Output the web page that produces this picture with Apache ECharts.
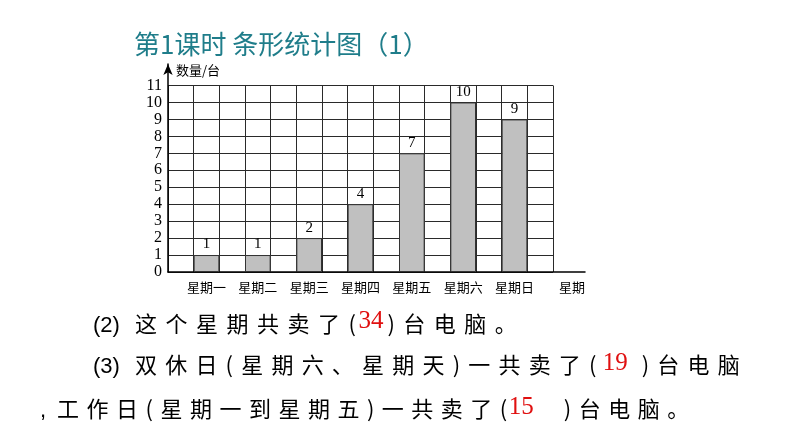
<!DOCTYPE html>
<html><head><meta charset="utf-8">
<script src="https://cdn.jsdelivr.net/npm/echarts@6/dist/echarts.min.js"></script>
<style>
body{margin:0;background:#fff}
#wrap{position:relative;width:794px;height:447px;overflow:hidden}
#chart{position:absolute;left:0;top:0;width:794px;height:447px}
.line{position:absolute;font-family:'Noto Sans CJK SC';font-size:22px;letter-spacing:8.5px;color:#000;white-space:nowrap;line-height:30px;height:30px}
.lab{font-family:'Liberation Sans','Noto Sans';letter-spacing:0;font-size:22px;display:inline-block;width:42px}
.num{color:#e01010;font-family:'Liberation Serif';font-size:25px;letter-spacing:0;display:inline-block}
</style></head>
<body><div id="wrap"><div id="chart"></div>
<div class="line" style="left:93px;top:307px"><span class="lab">(2)</span>这个星期共卖了(<span class="num" style="position:relative;top:-4px;margin-left:-6px;margin-right:4px">34</span>)台电脑。</div>
<div class="line" style="left:93px;top:348px;letter-spacing:8.2px"><span class="lab">(3)</span>双休日(星期六、星期天)一共卖了(<span class="num" style="position:relative;top:-3px;margin-left:-2px;margin-right:14px">19</span>)台电脑</div>
<div class="line" style="left:40px;top:392px;letter-spacing:7.5px"><span class="lab" style="width:17px">,</span>工作日(星期一到星期五)一共卖了(<span class="num" style="position:relative;top:-3px;margin-left:-6px;margin-right:30px">15</span>)台电脑。</div>
</div>
<script>
const categories = ['星期一','星期二','星期三','星期四','星期五','星期六','星期日'];
const values = [1, 1, 2, 4, 7, 10, 9];
const yMax = 11;
const slotCount = 15;
const xAxisName = '星期';
const yAxisName = '数量/台';
const titleText = '第1课时 条形统计图（1）';

// each category sits in every second grid column (odd slots)
const slotLabels = [], slotValues = [];
for (let i = 0; i < slotCount; i++) {
  if (i % 2 === 1 && (i - 1) / 2 < categories.length) {
    slotLabels.push(categories[(i - 1) / 2]);
    slotValues.push(values[(i - 1) / 2]);
  } else {
    slotLabels.push('');
    slotValues.push('-');
  }
}

const chart = echarts.init(document.getElementById('chart'));
const gridLine = {color: '#2a2a2a', width: 1};
chart.setOption({
  animation: false,
  title: {text: titleText, left: 129, top: 26,
    textStyle: {fontFamily: 'Noto Sans CJK SC', fontSize: 26, fontWeight: 'normal', color: '#1f7d8a'}},
  grid: [
    {left: 168, top: 85.5, width: 385, height: 186.5},
    {left: 168, top: 64, width: 417, height: 208}
  ],
  xAxis: [
    {type: 'value', gridIndex: 0, position: 'top', min: 0, max: slotCount, interval: 1,
      axisLine: {show: false}, axisTick: {show: false}, axisLabel: {show: false},
      splitLine: {show: true, lineStyle: gridLine}},
    {type: 'value', gridIndex: 1, position: 'bottom', min: 0, max: 1,
      axisLine: {show: true, lineStyle: {color: '#000', width: 1.5}}, axisTick: {show: false},
      axisLabel: {show: false}, splitLine: {show: false},
      name: xAxisName, nameLocation: 'end', nameGap: -13,
      nameTextStyle: {align: 'center', verticalAlign: 'top', padding: [9, 0, 0, 0],
        fontSize: 13, color: '#000', fontFamily: 'Noto Sans CJK SC'}},
    {type: 'category', gridIndex: 0, position: 'bottom', data: slotLabels, boundaryGap: true,
      axisLine: {show: false}, axisTick: {show: false}, splitLine: {show: false},
      axisLabel: {interval: 0, margin: 9, fontSize: 13, color: '#000', fontFamily: 'Noto Sans CJK SC'}}
  ],
  yAxis: [
    {type: 'value', gridIndex: 0, min: 0, max: yMax, interval: 1,
      axisLine: {show: false}, axisTick: {show: false},
      axisLabel: {margin: 6, fontSize: 16, color: '#000', fontFamily: 'Liberation Serif'},
      splitLine: {show: true, lineStyle: gridLine}},
    {type: 'value', gridIndex: 1, min: 0, max: 1,
      axisLine: {show: true, symbol: ['none', 'arrow'], symbolSize: [7, 11], lineStyle: {color: '#000', width: 1.5}},
      axisTick: {show: false}, axisLabel: {show: false}, splitLine: {show: false},
      name: yAxisName, nameLocation: 'end', nameGap: -6,
      nameTextStyle: {align: 'left', verticalAlign: 'middle', padding: [0, 0, 0, 8],
        fontSize: 13, color: '#000', fontFamily: 'Noto Sans CJK SC'}}
  ],
  series: [{
    type: 'bar', xAxisIndex: 2, yAxisIndex: 0, data: slotValues, barWidth: '100%',
    itemStyle: {color: '#c0c0c0', borderColor: '#333', borderWidth: 1},
    label: {show: true, position: 'top', distance: 3, fontFamily: 'Liberation Serif', fontSize: 15, color: '#000'}
  }]
});
</script></body></html>
